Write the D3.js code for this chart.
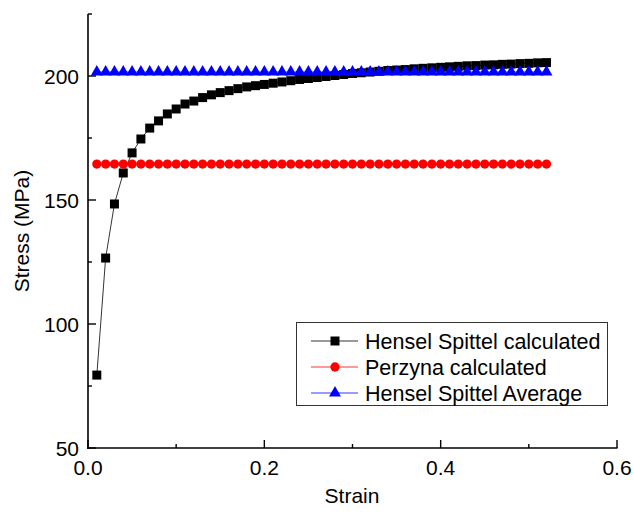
<!DOCTYPE html>
<html><head><meta charset="utf-8">
<script src="https://cdn.jsdelivr.net/npm/d3@7/dist/d3.min.js"></script>
<style>body{margin:0;background:#fff}svg{display:block}text{font-family:"Liberation Sans",Arial,sans-serif}</style>
</head><body>
<svg id="c" width="634" height="512"></svg>
<script>
const strain = [0.01,0.02,0.03,0.04,0.05,0.06,0.07,0.08,0.09,0.10,0.11,0.12,0.13,0.14,0.15,0.16,0.17,0.18,0.19,0.20,0.21,0.22,0.23,0.24,0.25,0.26,0.27,0.28,0.29,0.30,0.31,0.32,0.33,0.34,0.35,0.36,0.37,0.38,0.39,0.40,0.41,0.42,0.43,0.44,0.45,0.46,0.47,0.48,0.49,0.50,0.51,0.52];
const henselCalc = [79.4,126.6,148.4,160.9,169.0,174.6,179.0,181.9,184.7,186.7,188.7,189.9,191.3,192.4,193.3,194.1,194.9,195.6,196.1,196.6,197.1,197.6,198.1,198.6,199.0,199.4,199.8,200.2,200.6,201.0,201.3,201.6,201.9,202.2,202.4,202.6,202.9,203.1,203.3,203.5,203.7,203.9,204.1,204.2,204.4,204.5,204.7,204.8,205.0,205.1,205.3,205.4];
const perzyna = strain.map(() => 164.5);
const henselAvg = strain.map(() => 201.6);
const xTicks = [0.0,0.2,0.4,0.6];
const yTicks = [50,100,150,200];
const xMinor = [0.1,0.3,0.5];
const yMinor = [75,125,175,225];
const seriesNames = ["Hensel Spittel calculated","Perzyna calculated","Hensel Spittel Average"];

const svg = d3.select("#c");
const x = d3.scaleLinear().domain([0,0.6]).range([88,617]);
const y = d3.scaleLinear().domain([50,225]).range([448,14]);

const series = [
  {name:seriesNames[0], vals:henselCalc, color:"#000000", sym:d3.symbolSquare, size:81},
  {name:seriesNames[1], vals:perzyna, color:"#ff0000", sym:d3.symbolCircle, size:68},
  {name:seriesNames[2], vals:henselAvg, color:"#0000ff", sym:d3.symbolTriangle, size:62}
];

const line = d3.line().x(d=>x(d[0])).y(d=>y(d[1]));
series.forEach(s=>{
  const pts = strain.map((v,i)=>[v,s.vals[i]]);
  svg.append("path").attr("d",line(pts)).attr("fill","none").attr("stroke",s.color).attr("stroke-width",0.8);
  svg.append("g").selectAll("path").data(pts).join("path")
    .attr("transform",d=>`translate(${x(d[0])},${y(d[1])})`)
    .attr("d",d3.symbol(s.sym,s.size)).attr("fill",s.color);
});

// axes
const fs = 21;
const xa = svg.append("g").attr("transform","translate(0,448)");
xa.append("line").attr("x1",87).attr("x2",617.5).attr("stroke","#000").attr("stroke-width",1.6);
xTicks.forEach(t=>{
  xa.append("line").attr("x1",x(t)).attr("x2",x(t)).attr("y1",0).attr("y2",-8).attr("stroke","#000").attr("stroke-width",1.4);
  xa.append("text").attr("x",x(t)).attr("y",27).attr("text-anchor","middle").attr("font-size",fs).text(d3.format(".1f")(t));
});
xMinor.forEach(t=>{
  xa.append("line").attr("x1",x(t)).attr("x2",x(t)).attr("y1",0).attr("y2",-4).attr("stroke","#000").attr("stroke-width",1.4);
});
const ya = svg.append("g").attr("transform","translate(88,0)");
ya.append("line").attr("y1",y(225)).attr("y2",449).attr("stroke","#000").attr("stroke-width",1.6);
yTicks.forEach(t=>{
  ya.append("line").attr("y1",y(t)).attr("y2",y(t)).attr("x1",0).attr("x2",8).attr("stroke","#000").attr("stroke-width",1.4);
  ya.append("text").attr("x",-9).attr("y",y(t)+7.5).attr("text-anchor","end").attr("font-size",fs).text(t);
});
yMinor.forEach(t=>{
  ya.append("line").attr("y1",y(t)).attr("y2",y(t)).attr("x1",0).attr("x2",4).attr("stroke","#000").attr("stroke-width",1.4);
});

svg.append("text").attr("x",352).attr("y",503).attr("text-anchor","middle").attr("font-size",fs).text("Strain");
svg.append("text").attr("transform","translate(29,231) rotate(-90)").attr("text-anchor","middle").attr("font-size",fs).text("Stress (MPa)");

// legend
const lg = svg.append("g");
lg.append("rect").attr("x",296.5).attr("y",322.5).attr("width",311).attr("height",83).attr("fill","#fff").attr("stroke","#333").attr("stroke-width",1);
series.forEach((s,i)=>{
  const cy = 341 + i*26;
  lg.append("line").attr("x1",311).attr("x2",358).attr("y1",cy).attr("y2",cy).attr("stroke",s.color).attr("stroke-width",0.8);
  lg.append("path").attr("transform",`translate(335,${cy})`).attr("d",d3.symbol(s.sym,s.size)).attr("fill",s.color);
  lg.append("text").attr("x",365).attr("y",cy+7.5).attr("font-size",21.5).text(s.name);
});
</script>
</body></html>
